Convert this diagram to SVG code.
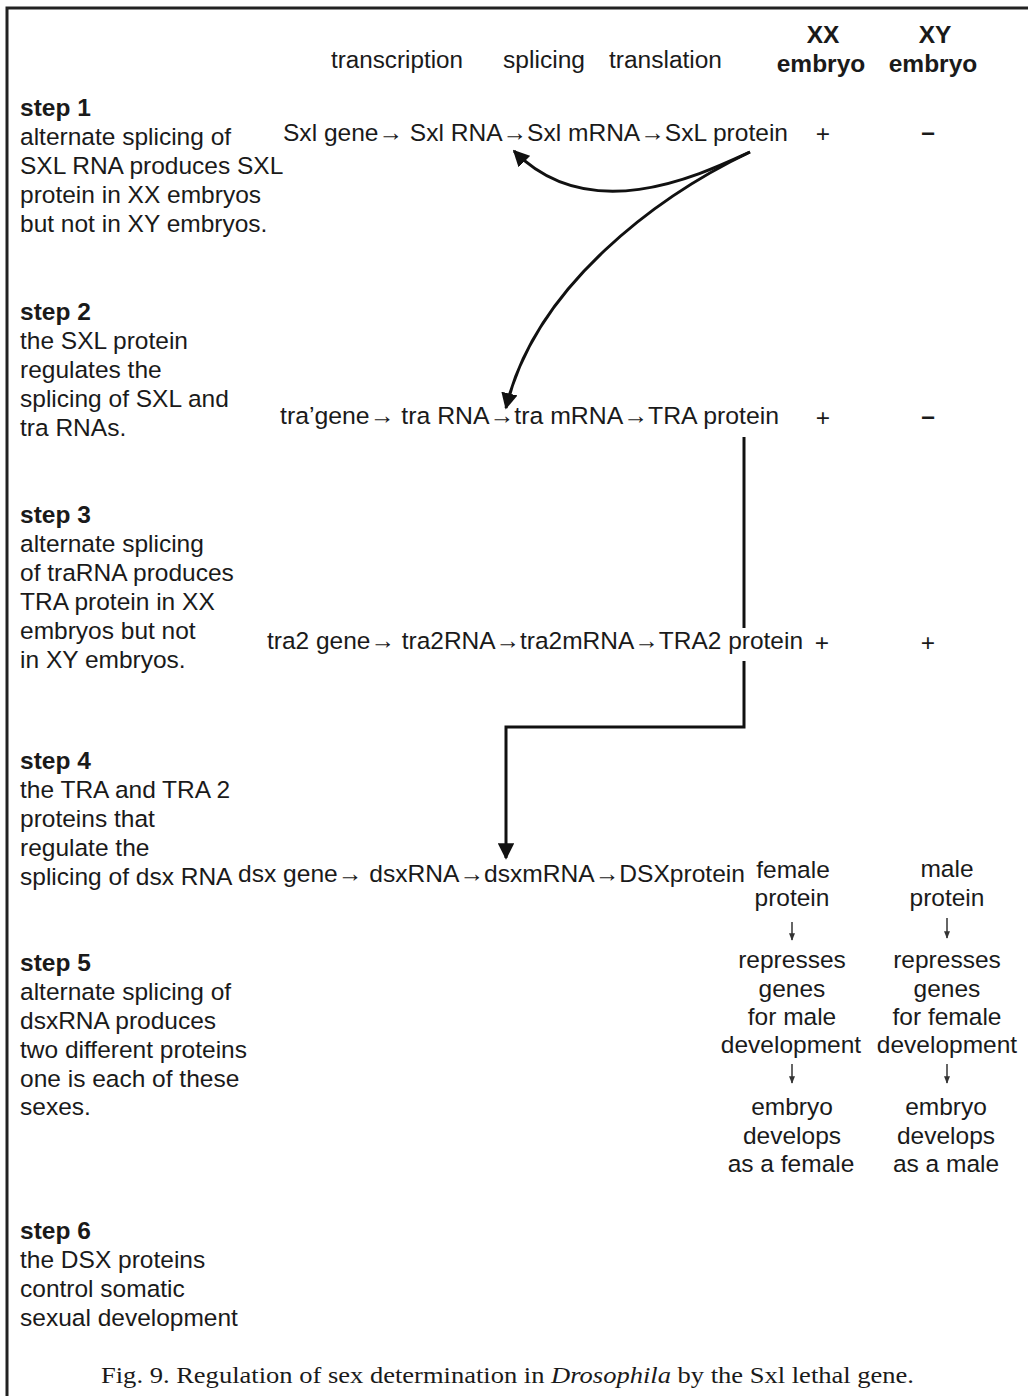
<svg xmlns="http://www.w3.org/2000/svg" width="1028" height="1396" viewBox="0 0 1028 1396">
  <style>
    text { font-family: "Liberation Sans", Arial, sans-serif; fill: #1a1a1a; }
    .body { font-size: 24.5px; }
    .bold { font-size: 24.5px; font-weight: bold; }
    .head { font-size: 23px; }
    .mid { text-anchor: middle; }
    .sign { font-weight: bold; }
    .cap { font-family: "Liberation Serif", "Times New Roman", serif; font-size: 23px; }
    .wire { fill: none; stroke: #111; stroke-width: 3; }
    .thin { fill: none; stroke: #333; stroke-width: 1.5; }
  </style>
  <defs>
    <marker id="head" viewBox="0 0 10 10" refX="9" refY="5" markerWidth="5.5" markerHeight="5.5" orient="auto" markerUnits="strokeWidth">
      <path d="M0,0 L10,5 L0,10 Z" fill="#111"/>
    </marker>
    <marker id="tiny" viewBox="0 0 10 10" refX="9" refY="5" markerWidth="5" markerHeight="5" orient="auto" markerUnits="strokeWidth">
      <path d="M0,1 L10,5 L0,9 Z" fill="#333"/>
    </marker>
  </defs>

  <rect width="1028" height="1396" fill="#ffffff"/>

  <!-- frame -->
  <path d="M7,1396 V8 H1028" fill="none" stroke="#222" stroke-width="3"/>

  <!-- column headings -->
  <g id="headings">
    <text class="head" x="331" y="68" textLength="132" lengthAdjust="spacingAndGlyphs">transcription</text>
    <text class="head" x="503" y="68" textLength="82" lengthAdjust="spacingAndGlyphs">splicing</text>
    <text class="head" x="609" y="68" textLength="113" lengthAdjust="spacingAndGlyphs">translation</text>
    <text class="bold mid" x="823" y="43">XX</text>
    <text class="bold mid" x="821" y="72">embryo</text>
    <text class="bold mid" x="935" y="43">XY</text>
    <text class="bold mid" x="933" y="72">embryo</text>
  </g>

  <!-- step descriptions -->
  <g id="step1">
    <text class="bold" x="20" y="116">step 1</text>
    <text class="body" x="20" y="145">alternate splicing of</text>
    <text class="body" x="20" y="174">SXL RNA produces SXL</text>
    <text class="body" x="20" y="203">protein in XX embryos</text>
    <text class="body" x="20" y="232">but not in XY embryos.</text>
  </g>
  <g id="step2">
    <text class="bold" x="20" y="320">step 2</text>
    <text class="body" x="20" y="349">the SXL protein</text>
    <text class="body" x="20" y="378">regulates the</text>
    <text class="body" x="20" y="407">splicing of SXL and</text>
    <text class="body" x="20" y="436">tra RNAs.</text>
  </g>
  <g id="step3">
    <text class="bold" x="20" y="523">step 3</text>
    <text class="body" x="20" y="552">alternate splicing</text>
    <text class="body" x="20" y="581">of traRNA produces</text>
    <text class="body" x="20" y="610">TRA protein in XX</text>
    <text class="body" x="20" y="639">embryos but not</text>
    <text class="body" x="20" y="668">in XY embryos.</text>
  </g>
  <g id="step4">
    <text class="bold" x="20" y="769">step 4</text>
    <text class="body" x="20" y="798">the TRA and TRA 2</text>
    <text class="body" x="20" y="827">proteins that</text>
    <text class="body" x="20" y="856">regulate the</text>
    <text class="body" x="20" y="885">splicing of dsx RNA</text>
  </g>
  <g id="step5">
    <text class="bold" x="20" y="971">step 5</text>
    <text class="body" x="20" y="1000">alternate splicing of</text>
    <text class="body" x="20" y="1029">dsxRNA produces</text>
    <text class="body" x="20" y="1058">two different proteins</text>
    <text class="body" x="20" y="1087">one is each of these</text>
    <text class="body" x="20" y="1115">sexes.</text>
  </g>
  <g id="step6">
    <text class="bold" x="20" y="1239">step 6</text>
    <text class="body" x="20" y="1268">the DSX proteins</text>
    <text class="body" x="20" y="1297">control somatic</text>
    <text class="body" x="20" y="1326">sexual development</text>
  </g>

  <!-- gene pathways -->
  <g id="sxl-row">
    <text class="body" x="283" y="141" textLength="505" lengthAdjust="spacingAndGlyphs">Sxl gene→ Sxl RNA→Sxl mRNA→SxL protein</text>
    <text class="body mid" x="823" y="142">+</text>
    <text class="body mid sign" x="928" y="140">–</text>
  </g>
  <g id="tra-row">
    <text class="body" x="280" y="424" textLength="499" lengthAdjust="spacingAndGlyphs">tra’gene→ tra RNA→tra mRNA→TRA protein</text>
    <text class="body mid" x="823" y="426">+</text>
    <text class="body mid sign" x="928" y="424">–</text>
  </g>
  <g id="tra2-row">
    <text class="body" x="267" y="649" textLength="536" lengthAdjust="spacingAndGlyphs">tra2 gene→ tra2RNA→tra2mRNA→TRA2 protein</text>
    <text class="body mid" x="822" y="651">+</text>
    <text class="body mid" x="928" y="651">+</text>
  </g>
  <g id="dsx-row">
    <text class="body" x="238" y="882" textLength="507" lengthAdjust="spacingAndGlyphs">dsx gene→ dsxRNA→dsxmRNA→DSXprotein</text>
  </g>

  <!-- outcome in XX embryos -->
  <g id="xx-outcome">
    <text class="body mid" x="793" y="878">female</text>
    <text class="body mid" x="792" y="906">protein</text>
    <text class="body mid" x="792" y="968">represses</text>
    <text class="body mid" x="792" y="997">genes</text>
    <text class="body mid" x="792" y="1025">for male</text>
    <text class="body mid" x="791" y="1053">development</text>
    <text class="body mid" x="792" y="1115">embryo</text>
    <text class="body mid" x="792" y="1144">develops</text>
    <text class="body mid" x="791" y="1172">as a female</text>
  </g>

  <!-- outcome in XY embryos -->
  <g id="xy-outcome">
    <text class="body mid" x="947" y="877">male</text>
    <text class="body mid" x="947" y="906">protein</text>
    <text class="body mid" x="947" y="968">represses</text>
    <text class="body mid" x="947" y="997">genes</text>
    <text class="body mid" x="947" y="1025">for female</text>
    <text class="body mid" x="947" y="1053">development</text>
    <text class="body mid" x="946" y="1115">embryo</text>
    <text class="body mid" x="946" y="1144">develops</text>
    <text class="body mid" x="946" y="1172">as a male</text>
  </g>

  <!-- regulatory connectors -->
  <g id="connectors">
    <path class="wire" d="M750,152 C700,175 590,228 514,151" marker-end="url(#head)"/>
    <path class="wire" d="M750,152 C660,195 535,285 506,408" marker-end="url(#head)"/>
    <path class="wire" d="M744,437 V628"/>
    <path class="wire" d="M744,661 V727 H506 V858" marker-end="url(#head)"/>
    <path class="thin" d="M792,922 V940" marker-end="url(#tiny)"/>
    <path class="thin" d="M792,1064 V1083" marker-end="url(#tiny)"/>
    <path class="thin" d="M947,918 V938" marker-end="url(#tiny)"/>
    <path class="thin" d="M947,1064 V1083" marker-end="url(#tiny)"/>
  </g>

  <!-- caption -->
  <text class="cap" x="101" y="1383" textLength="813" lengthAdjust="spacingAndGlyphs">Fig. 9. Regulation of sex determination in <tspan font-style="italic">Drosophila</tspan> by the Sxl lethal gene.</text>
</svg>
